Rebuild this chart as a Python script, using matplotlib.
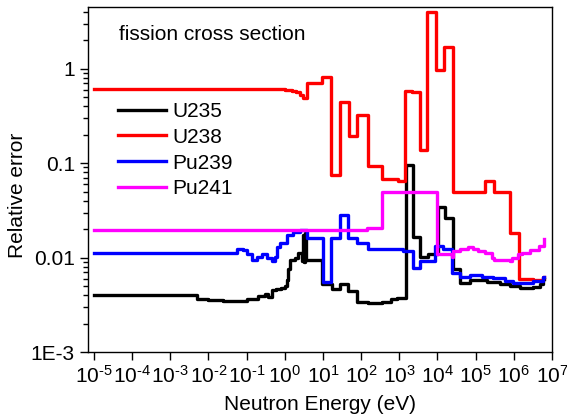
import matplotlib
matplotlib.use("Agg")
import matplotlib.pyplot as plt
from matplotlib.ticker import FixedLocator, FixedFormatter, LogLocator, NullLocator

plt.rcParams['font.family'] = ['Liberation Sans', 'DejaVu Sans']
plt.rcParams['mathtext.fontset'] = 'custom'
plt.rcParams['mathtext.rm'] = 'Liberation Sans'

# energia (eV) e erro relativo, degraus (steps-post)
e_u235 = [1e-5, 5e-3, 0.01, 0.024, 0.05, 0.1, 0.2, 0.3, 0.36, 0.46, 0.6, 0.8, 1.0,
          1.13, 1.25, 1.35, 1.8, 2.19, 2.8, 3.0, 3.2, 3.4, 3.6, 9.3, 17, 27.5, 44.6,
          77, 149, 346, 600, 855, 1470, 2240, 3400, 5540, 10100, 15400, 25000,
          38100, 69700, 1.94e5, 4.25e5, 7.8e5, 1.42e6, 3.1e6, 4.8e6, 5.7e6, 6.2e6]
v_u235 = [0.0040, 0.0036, 0.00352, 0.00345, 0.0035, 0.00368, 0.0039, 0.0041, 0.0038,
          0.0045, 0.0047, 0.0048, 0.0050, 0.0058, 0.0075, 0.0095, 0.0098, 0.0113,
          0.0091, 0.0175, 0.009, 0.018, 0.0095, 0.0052, 0.0046, 0.0052, 0.0044,
          0.0034, 0.0033, 0.0034, 0.0036, 0.0037, 0.096, 0.0165, 0.0102, 0.0108,
          0.034, 0.0265, 0.0075, 0.0054, 0.0058, 0.0055, 0.0052, 0.0050, 0.0048,
          0.0049, 0.0052, 0.0060, 0.0060]

e_u238 = [1e-5, 1.0, 1.5, 2.0, 2.5, 3.0, 3.77, 9.3, 16, 27.5, 47, 77, 149, 346, 908,
          1390, 2100, 3400, 5200, 8970, 14500, 25000, 1.8e5, 2.96e5, 4.8e5, 7.8e5,
          1.34e6, 3.1e6, 5.7e6, 6.2e6]
v_u238 = [0.61, 0.60, 0.58, 0.56, 0.53, 0.49, 0.71, 0.82, 0.074, 0.44, 0.195, 0.326,
          0.094, 0.0686, 0.0653, 0.585, 0.56, 0.139, 4.0, 0.975, 1.71, 0.050, 0.0653,
          0.050, 0.049, 0.018, 0.0060, 0.0058, 0.0063, 0.0063]

e_pu239 = [1e-5, 5e-3, 0.024, 0.055, 0.079, 0.10, 0.137, 0.185, 0.25, 0.338, 0.457,
           0.547, 0.616, 0.74, 1.13, 1.62, 2.5, 3.77, 9.9, 16, 27.5, 44.6, 77, 149,
           1230, 2240, 3400, 8450, 13700, 23500, 38100, 69700, 1.44e5, 2.79e5,
           5.75e5, 9.3e5, 3.1e6, 5.7e6, 6.2e6]
v_pu239 = [0.0113, 0.0112, 0.0113, 0.0124, 0.0119, 0.0108, 0.0095, 0.0102, 0.0110,
           0.0100, 0.0091, 0.0102, 0.0128, 0.0144, 0.0175, 0.0188, 0.0198, 0.0163,
           0.00557, 0.0163, 0.0285, 0.0163, 0.0144, 0.0122, 0.0116, 0.0078, 0.0091,
           0.0131, 0.0122, 0.0069, 0.0063, 0.0066, 0.0063, 0.0061, 0.0056, 0.0054,
           0.0056, 0.0063, 0.0063]

e_pu241 = [1e-5, 140, 346, 5200, 9530, 23500, 25000, 38100, 61700, 83600, 1.13e5,
           1.72e5, 2.63e5, 3.1e5, 7.8e5, 8.7e5, 1.26e6, 1.6e6, 2.6e6, 4.7e6, 6.3e6]
v_pu241 = [0.0198, 0.0206, 0.050, 0.049, 0.0108, 0.0102, 0.0116, 0.0122, 0.0128,
           0.0122, 0.0116, 0.0113, 0.0100, 0.0095, 0.0091, 0.0100, 0.0108, 0.0113,
           0.0119, 0.0131, 0.0159]

series = [
    ('U235', e_u235, v_u235, 'black'),
    ('U238', e_u238, v_u238, '#ff0000'),
    ('Pu239', e_pu239, v_pu239, '#0000ff'),
    ('Pu241', e_pu241, v_pu241, '#ff00ff'),
]

x_expoentes = list(range(-5, 8))
x_ticks = [10.0 ** k for k in x_expoentes]
x_labels = [r'$\mathdefault{10^{\text{%s}}}$' % ('-%d' % -k if k < 0 else '%d' % k)
            for k in x_expoentes]
y_ticks = [1e-3, 1e-2, 1e-1, 1]
y_labels = ['1E-3', '0.01', '0.1', '1']

fig = plt.figure(figsize=(5.67, 4.18), dpi=100)
ax = fig.add_axes([88 / 567, 66 / 418, 464 / 567, 345 / 418])

for nome, e, v, cor in series:
    ax.plot(e, v, drawstyle='steps-post', color=cor, lw=2.4, label=nome)

ax.set_xscale('log')
ax.set_yscale('log')
ax.set_xlim(7e-6, 1e7)
ax.set_ylim(1e-3, 4.5)

ax.xaxis.set_major_locator(FixedLocator(x_ticks))
ax.xaxis.set_major_formatter(FixedFormatter(x_labels))
ax.xaxis.set_minor_locator(NullLocator())
ax.yaxis.set_major_locator(FixedLocator(y_ticks))
ax.yaxis.set_major_formatter(FixedFormatter(y_labels))
ax.yaxis.set_minor_locator(LogLocator(base=10, subs=range(2, 10)))

ax.tick_params(which='both', direction='out', top=False, right=False, labelsize=15)
ax.tick_params(which='major', length=6, width=1)
ax.tick_params(which='minor', length=3.5, width=1)
ax.tick_params(axis='x', pad=3)
for s in ax.spines.values():
    s.set_linewidth(1.0)

ax.set_xlabel('Neutron Energy (eV)', fontsize=15)
ax.set_ylabel('Relative error', fontsize=15)
ax.xaxis.set_label_coords(0.5, -0.125)
ax.yaxis.set_label_coords(-0.131, 0.455)

ax.text(0.067, 0.919, 'fission cross section', transform=ax.transAxes,
        fontsize=15, va='center', ha='left')

ax.legend(loc='upper left', bbox_to_anchor=(0.065, 0.725), frameon=False,
          fontsize=15, handlelength=2.3, handletextpad=0.3, labelspacing=0.33,
          borderpad=0, borderaxespad=0)

plt.savefig('out.png', dpi=100)
